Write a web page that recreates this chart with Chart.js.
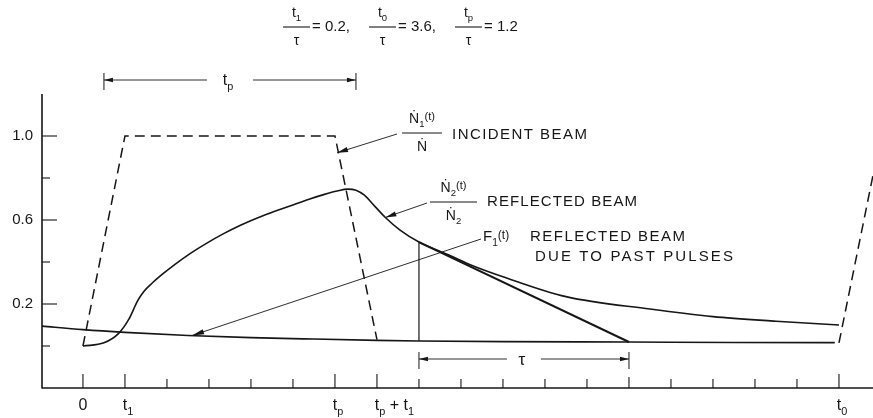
<!DOCTYPE html>
<html>
<head>
<meta charset="utf-8">
<script src="https://cdn.jsdelivr.net/npm/chart.js@4.4.1/dist/chart.umd.min.js"></script>
<style>
  html, body { margin: 0; padding: 0; background: #fff; }
  #wrap { position: relative; width: 873px; height: 418px; }
</style>
</head>
<body>
<div id="wrap"><canvas id="beamChart"></canvas></div>
<script>
// time is in units of tau, beam intensities are normalised
const incidentT = [0, 0.2, 1.2, 1.4];
const incidentV = [0, 1.0, 1.0, 0.03];
const nextPulseT = [3.6, 3.8];
const nextPulseV = [0.015, 1.0];

const reflectedT = [0, 0.1, 0.17, 0.22, 0.26, 0.29, 0.33, 0.38, 0.44, 0.51, 0.59, 0.67, 0.75, 0.83, 0.91, 1.0, 1.08, 1.15, 1.21, 1.26, 1.3, 1.34, 1.39, 1.44, 1.51, 1.6, 1.75, 1.85, 2.0, 2.3, 2.7, 3.0, 3.3, 3.6];
const reflectedV = [0, 0.015, 0.06, 0.13, 0.215, 0.26, 0.3, 0.343, 0.39, 0.44, 0.49, 0.535, 0.575, 0.61, 0.64, 0.672, 0.7, 0.722, 0.738, 0.747, 0.742, 0.718, 0.665, 0.612, 0.552, 0.495, 0.43, 0.385, 0.33, 0.235, 0.176, 0.14, 0.118, 0.1];

const pastT = [-0.2, 0, 0.2, 0.5, 0.8, 1.1, 1.4, 1.6, 2.0, 2.6, 3.1, 3.58];
const pastV = [0.095, 0.078, 0.065, 0.05, 0.04, 0.033, 0.027, 0.024, 0.021, 0.019, 0.017, 0.016];

const tangentT = [1.6, 2.6];
const tangentV = [0.495, 0.019];

const markerT = [1.6, 1.6];
const markerV = [0.024, 0.495];

const xTicks = [0, 0.2, 0.4, 0.6, 0.8, 1.0, 1.2, 1.4, 1.6, 1.8, 2.0, 2.2, 2.4, 2.6, 2.8, 3.0, 3.2, 3.4, 3.6];
const xLabelAt = [0, 0.2, 1.2, 1.4, 3.6];
const xLabelText = ['0', 't_1', 't_p', 't_p + t_1', 't_0'];
const yTicks = [0, 0.2, 0.4, 0.6, 0.8, 1.0];
const yLabelAt = [0.2, 0.6, 1.0];
const yLabelText = ['0.2', '0.6', '1.0'];

const spanTp = [0.1, 1.3];
const spanTau = [1.6, 2.6];

const titleSymbols = ['t_1', 't_0', 't_p'];
const titleValues = ['0.2,', '3.6,', '1.2'];

const INK = '#161616';
const FAMILY = '"Liberation Sans", "DejaVu Sans", sans-serif';

function pts(ts, vs) {
  return ts.map((t, i) => ({ x: t, y: vs[i] }));
}

// "_x" lowers the next char, "{...}" is a small raised group
function parseRuns(markup) {
  const runs = [];
  let i = 0;
  while (i < markup.length) {
    const c = markup[i];
    if (c === '_') {
      runs.push({ text: markup[i + 1], scale: 0.68, dy: 0.38 });
      i += 2;
    } else if (c === '{') {
      const j = markup.indexOf('}', i);
      runs.push({ text: markup.slice(i + 1, j), scale: 0.8, dy: -0.12 });
      i = j + 1;
    } else {
      let j = i;
      while (j < markup.length && markup[j] !== '_' && markup[j] !== '{') j++;
      runs.push({ text: markup.slice(i, j), scale: 1, dy: 0 });
      i = j;
    }
  }
  return runs;
}

function drawRuns(ctx, markup, x, y, size, align) {
  const runs = parseRuns(markup);
  let total = 0;
  runs.forEach(r => {
    ctx.font = (size * r.scale) + 'px ' + FAMILY;
    r.w = ctx.measureText(r.text).width;
    total += r.w;
  });
  let cx = x;
  if (align === 'center') cx = x - total / 2;
  else if (align === 'right') cx = x - total;
  else if (align === 'glyph') cx = x - runs[0].w / 2;
  ctx.textAlign = 'left';
  ctx.textBaseline = 'middle';
  runs.forEach(r => {
    ctx.font = (size * r.scale) + 'px ' + FAMILY;
    ctx.fillText(r.text, cx, y + r.dy * size);
    cx += r.w;
  });
  return total;
}

// spread a caption between two x positions
function fitText(ctx, text, x0, x1, y, size) {
  ctx.font = size + 'px ' + FAMILY;
  ctx.letterSpacing = '0px';
  const w = ctx.measureText(text).width;
  const gap = (x1 - x0 - w) / (text.length - 1);
  ctx.letterSpacing = gap + 'px';
  ctx.textAlign = 'left';
  ctx.textBaseline = 'middle';
  ctx.fillText(text, x0, y);
  ctx.letterSpacing = '0px';
}

function line(ctx, x0, y0, x1, y1, lw) {
  ctx.lineWidth = lw;
  ctx.beginPath();
  ctx.moveTo(x0, y0);
  ctx.lineTo(x1, y1);
  ctx.stroke();
}

function arrow(ctx, x0, y0, x1, y1, lw, len, half) {
  line(ctx, x0, y0, x1, y1, lw);
  const a = Math.atan2(y1 - y0, x1 - x0);
  ctx.beginPath();
  ctx.moveTo(x1, y1);
  ctx.lineTo(x1 - len * Math.cos(a) + half * Math.sin(a), y1 - len * Math.sin(a) - half * Math.cos(a));
  ctx.lineTo(x1 - len * Math.cos(a) - half * Math.sin(a), y1 - len * Math.sin(a) + half * Math.cos(a));
  ctx.closePath();
  ctx.fill();
}

function dimension(ctx, xa, xb, y, label, halfGap, size) {
  const mid = (xa + xb) / 2;
  line(ctx, xa, y - 7, xa, y + 10, 1);
  line(ctx, xb, y - 7, xb, y + 10, 1);
  arrow(ctx, mid - halfGap, y, xa, y, 0.9, 9, 2.2);
  arrow(ctx, mid + halfGap, y, xb, y, 0.9, 9, 2.2);
  drawRuns(ctx, label, mid - 2, y + 1, size, 'center');
}

function fraction(ctx, top, bottom, x0, x1, y, size) {
  const mid = (x0 + x1) / 2;
  drawRuns(ctx, top, mid, y - size, size, 'center');
  line(ctx, x0, y, x1, y, 1.1);
  drawRuns(ctx, bottom, mid, y + size, size, 'center');
}

const decorations = {
  id: 'decorations',
  afterDraw(chart) {
    const { ctx, chartArea: area, scales: { x, y } } = chart;
    ctx.save();
    ctx.strokeStyle = INK;
    ctx.fillStyle = INK;
    ctx.lineCap = 'butt';

    // axes
    line(ctx, area.left, area.top, area.left, area.bottom + 0.5, 1.6);
    line(ctx, area.left, area.bottom, area.right, area.bottom, 1.6);

    xTicks.forEach(t => {
      const px = x.getPixelForValue(t);
      const long = xLabelAt.includes(t);
      const len = long ? 14 : (t === 2.6 ? 11 : 9);
      line(ctx, px, area.bottom, px, area.bottom - len, 1.1);
    });
    xLabelAt.forEach((t, i) => {
      drawRuns(ctx, xLabelText[i], x.getPixelForValue(t), area.bottom + 18, 16, 'glyph');
    });

    yTicks.forEach(v => {
      const py = y.getPixelForValue(v);
      const len = yLabelAt.includes(v) ? 15 : 8;
      line(ctx, area.left, py, area.left + len, py, 1.1);
    });
    yLabelAt.forEach((v, i) => {
      drawRuns(ctx, yLabelText[i], 33, y.getPixelForValue(v), 15, 'right');
    });

    // parameter line above the plot
    const barStart = [283, 369, 455];
    titleSymbols.forEach((s, i) => {
      const b0 = barStart[i];
      fraction(ctx, s, 'τ', b0, b0 + 27, 27, 14);
      drawRuns(ctx, '= ' + titleValues[i], b0 + 29, 27, 15, 'left');
    });

    // dimension marks
    dimension(ctx, x.getPixelForValue(spanTp[0]), x.getPixelForValue(spanTp[1]), 80, 't_p', 23, 16);
    dimension(ctx, x.getPixelForValue(spanTau[0]), x.getPixelForValue(spanTau[1]), 359, 'τ', 17, 17);

    // incident beam caption
    fraction(ctx, 'Ṅ_1{(t)}', 'Ṅ', 402, 442, 133, 14);
    fitText(ctx, 'INCIDENT BEAM', 452, 587, 135, 15);
    arrow(ctx, 397, 134, x.getPixelForValue(1.21), y.getPixelForValue(0.92), 0.9, 11, 2.6);

    // reflected beam caption
    fraction(ctx, 'Ṅ_2{(t)}', 'Ṅ_2', 430, 477, 202, 14);
    fitText(ctx, 'REFLECTED BEAM', 487, 637, 202, 15);
    arrow(ctx, 427, 203, x.getPixelForValue(1.44), y.getPixelForValue(0.612), 0.9, 11, 2.6);

    // past pulses caption
    drawRuns(ctx, 'F_1{(t)}', 483, 237, 15, 'left');
    fitText(ctx, 'REFLECTED BEAM', 530, 685, 237, 15);
    fitText(ctx, 'DUE TO PAST PULSES', 535, 733, 257, 15);
    arrow(ctx, 481, 239, x.getPixelForValue(0.52), y.getPixelForValue(0.05), 0.9, 12, 2.6);

    ctx.restore();
  }
};

const solid = { borderColor: INK, pointRadius: 0, fill: false, showLine: true };

new Chart(document.getElementById('beamChart'), {
  type: 'scatter',
  data: {
    datasets: [
      { ...solid, data: pts(incidentT, incidentV), borderWidth: 1.5, borderDash: [10, 6], tension: 0 },
      { ...solid, data: pts(nextPulseT, nextPulseV), borderWidth: 1.5, borderDash: [10, 6], tension: 0 },
      { ...solid, data: pts(reflectedT, reflectedV), borderWidth: 1.6, cubicInterpolationMode: 'monotone' },
      { ...solid, data: pts(pastT, pastV), borderWidth: 1.6, cubicInterpolationMode: 'monotone' },
      { ...solid, data: pts(tangentT, tangentV), borderWidth: 2, tension: 0 },
      { ...solid, data: pts(markerT, markerV), borderWidth: 1.2, tension: 0 }
    ]
  },
  options: {
    responsive: true,
    maintainAspectRatio: false,
    animation: false,
    layout: { padding: { left: 42, right: 0, top: 94, bottom: 30 } },
    scales: {
      x: { type: 'linear', min: -0.195, max: 3.762, display: false },
      y: { type: 'linear', min: -0.2, max: 1.2, display: false }
    },
    plugins: {
      legend: { display: false },
      tooltip: { enabled: false }
    }
  },
  plugins: [decorations]
});
</script>
</body>
</html>
